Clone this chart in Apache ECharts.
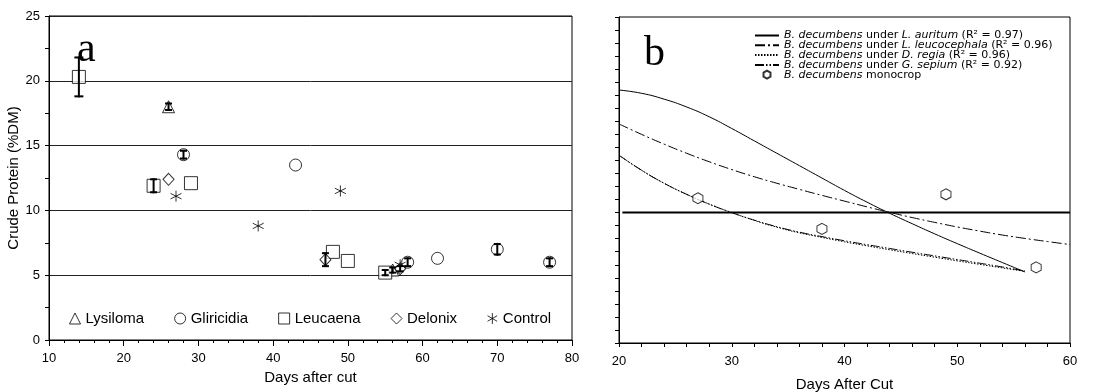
<!DOCTYPE html>
<html>
<head>
<meta charset="utf-8">
<script src="https://cdn.jsdelivr.net/npm/echarts@6/dist/echarts.min.js"></script>
<style>
  html, body { margin: 0; padding: 0; background: #fff; }
  #chart { width: 1097px; height: 392px; }
</style>
</head>
<body>
<div id="chart"></div>
<script>
// ---- Panel a: crude protein by tree species, [day, %DM, error] ----
const lysiloma   = [[26, 18.0, 0.25], [56, 5.4, 0.2]];
const gliricidia = [[28, 14.3, 0.3], [43, 13.5, 0], [58, 6.0, 0.3], [62, 6.3, 0], [70, 7.0, 0.4], [77, 6.0, 0.3]];
const leucaena   = [[14, 20.3, 1.5], [24, 11.9, 0.5], [29, 12.1, 0], [48, 6.8, 0], [50, 6.1, 0], [55, 5.2, 0.2]];
const delonix    = [[26, 12.4, 0], [47, 6.2, 0.5], [57, 5.5, 0.2]];
const control    = [[27, 11.1, 0], [38, 8.8, 0], [49, 11.5, 0], [57, 5.8, 0]];
const groupNames = ['Lysiloma', 'Gliricidia', 'Leucaena', 'Delonix', 'Control'];

// ---- Panel b: fitted curves for B. decumbens under each tree ----
const curveDays       = [20, 22, 24, 26, 28, 30, 32, 34, 36, 38, 40, 42, 44, 46, 48, 50, 52, 54, 56];
const curveDaysLong   = [20, 22, 24, 26, 28, 30, 32, 34, 36, 38, 40, 42, 44, 46, 48, 50, 52, 54, 56, 58, 60];
const underAuritum    = [19.4, 19.15, 18.7, 18.1, 17.35, 16.45, 15.5, 14.55, 13.6, 12.65, 11.7, 10.8, 9.95, 9.15, 8.37, 7.62, 6.89, 6.17, 5.45];
const underLeuco      = [16.8, 16.0, 15.25, 14.55, 13.9, 13.3, 12.75, 12.25, 11.78, 11.32, 10.88, 10.44, 10.02, 9.62, 9.25, 8.9, 8.58, 8.28, 8.02, 7.78, 7.55];
const underRegia      = [14.4, 13.25, 12.25, 11.4, 10.65, 10.0, 9.4, 8.88, 8.45, 8.1, 7.76, 7.45, 7.15, 6.86, 6.58, 6.3, 6.03, 5.76, 5.49];
const underSepium     = [14.4, 13.25, 12.25, 11.4, 10.65, 10.0, 9.42, 8.92, 8.5, 8.16, 7.84, 7.54, 7.25, 6.96, 6.68, 6.4, 6.12, 5.83, 5.52];
const monocropDays    = [27, 38, 49, 57];
const monocropValues  = [11.1, 8.75, 11.4, 5.8];
const monocropMean    = 10;
const hostNames       = ['L. auritum', 'L. leucocephala', 'D. regia', 'G. sepium'];
const r2Values        = ['0.97', '0.96', '0.96', '0.92'];

const FONT = '"Liberation Sans", Arial, sans-serif';
const LEGEND_FONT = '"DejaVu Sans", sans-serif';
const asterisk = 'path://M0,-1L0,1M-0.87,-0.5L0.87,0.5M-0.87,0.5L0.87,-0.5';
const hexagon = 'path://M0,-1L0.87,-0.5L0.87,0.5L0,1L-0.87,0.5L-0.87,-0.5Z';

const chart = echarts.init(document.getElementById('chart'), null, { renderer: 'canvas' });

const hollow = { color: '#fff', borderColor: '#000', borderWidth: 1 };
function scatterA(name, data, symbol, size) {
  return {
    name, type: 'scatter', xAxisIndex: 0, yAxisIndex: 0,
    data: data.map(d => [d[0], d[1]]),
    symbol, symbolSize: size, itemStyle: hollow, z: 3
  };
}

const errorData = [lysiloma, gliricidia, leucaena, delonix, control]
  .flat().filter(d => d[2] > 0);

const curveLabels = hostNames.map(h => 'B. decumbens under ' + h);
const monocropLabel = 'B. decumbens monocrop';

function pair(xs, ys) { return ys.map((v, i) => [xs[i], v]); }

function curveSeries(k, xs, ys, type) {
  return {
    name: curveLabels[k], type: 'line', xAxisIndex: 1, yAxisIndex: 1,
    smooth: true, symbol: 'none', data: pair(xs, ys),
    lineStyle: { color: '#000', width: 1, type }, itemStyle: { color: '#000' }
  };
}

const LEGEND_SIZE = 11;

const option = {
  animation: false,
  backgroundColor: '#fff',
  textStyle: { fontFamily: FONT, color: '#000' },
  grid: [
    { left: 49, right: 525, top: 16, bottom: 52, outerBoundsMode: 'none', show: true, borderColor: '#000', borderWidth: 1, backgroundColor: 'transparent' },
    { left: 619, right: 27, top: 17, bottom: 49, outerBoundsMode: 'none', show: true, borderColor: '#000', borderWidth: 1, backgroundColor: 'transparent' }
  ],
  xAxis: [
    {
      gridIndex: 0, type: 'value', min: 10, max: 80, interval: 10,
      name: 'Days after cut', nameLocation: 'middle', nameGap: 27,
      nameTextStyle: { fontSize: 15, fontFamily: FONT, color: '#000' },
      axisLine: { lineStyle: { color: '#000', width: 1 } },
      axisTick: { length: 6, lineStyle: { color: '#000' } },
      minorTick: { show: true, splitNumber: 5, length: 3, lineStyle: { color: '#000' } },
      axisLabel: { fontSize: 13, color: '#000', margin: 12, fontFamily: FONT },
      splitLine: { show: false }
    },
    {
      gridIndex: 1, type: 'value', min: 20, max: 60, interval: 10,
      name: 'Days After Cut', nameLocation: 'middle', nameGap: 34,
      nameTextStyle: { fontSize: 15, fontFamily: FONT, color: '#000' },
      axisLine: { lineStyle: { color: '#000', width: 1 } },
      axisTick: { length: 4, lineStyle: { color: '#000' } },
      minorTick: { show: true, splitNumber: 5, length: 4, lineStyle: { color: '#000' } },
      axisLabel: { fontSize: 13, color: '#000', margin: 12, fontFamily: FONT },
      splitLine: { show: false }
    }
  ],
  yAxis: [
    {
      gridIndex: 0, type: 'value', min: 0, max: 25, interval: 5,
      name: 'Crude Protein (%DM)', nameLocation: 'middle', nameGap: 22,
      nameTextStyle: { fontSize: 15, fontFamily: FONT, color: '#000' },
      axisLine: { lineStyle: { color: '#000', width: 1 } },
      axisTick: { length: 4, lineStyle: { color: '#000' } },
      minorTick: { show: true, splitNumber: 2, length: 4, lineStyle: { color: '#000' } },
      axisLabel: { fontSize: 13, color: '#000', margin: 9, fontFamily: FONT },
      splitLine: { show: true, lineStyle: { color: '#222', width: 1 } }
    },
    {
      gridIndex: 1, type: 'value', min: 0, max: 25, interval: 1,
      axisLine: { lineStyle: { color: '#000', width: 1 } },
      axisTick: { length: 4, lineStyle: { color: '#000' } },
      axisLabel: { show: false },
      splitLine: { show: false }
    }
  ],
  legend: [
    {
      data: groupNames,
      left: 64, top: 306, orient: 'horizontal',
      itemGap: 30, itemWidth: 11, itemHeight: 11,
      textStyle: { fontSize: 15, color: '#000', fontFamily: FONT },
      itemStyle: { color: '#fff', borderColor: '#000', borderWidth: 1 }
    },
    {
      data: curveLabels.map(n => ({ name: n, itemStyle: { opacity: 0 } })).concat([monocropLabel]),
      left: 749, top: 25, orient: 'vertical',
      itemGap: -1.2, itemWidth: 24, itemHeight: 8,
      textStyle: {
        fontSize: LEGEND_SIZE, color: '#000', fontFamily: LEGEND_FONT, lineHeight: 9.6,
        rich: {
          i: { fontStyle: 'italic', fontSize: LEGEND_SIZE, fontFamily: LEGEND_FONT, lineHeight: 9.6 },
          n: { fontSize: LEGEND_SIZE, fontFamily: LEGEND_FONT, lineHeight: 9.6 }
        }
      },
      formatter: function (name) {
        const k = curveLabels.indexOf(name);
        if (k >= 0) {
          return '{i|B. decumbens}{n| under }{i|' + hostNames[k] + '}{n| (R² = ' + r2Values[k] + ')}';
        }
        return '{i|B. decumbens}{n| monocrop}';
      }
    }
  ],
  graphic: [
    { type: 'text', left: 77, top: 29, z: 10, style: { text: 'a', font: '42px "Liberation Serif", serif', fill: '#000' } },
    { type: 'text', left: 644, top: 33, z: 10, style: { text: 'b', font: '42px "Liberation Serif", serif', fill: '#000' } }
  ],
  series: [
    scatterA('Lysiloma', lysiloma, 'triangle', 12),
    scatterA('Gliricidia', gliricidia, 'circle', 12),
    scatterA('Leucaena', leucaena, 'rect', 13),
    scatterA('Delonix', delonix, 'diamond', [11, 12]),
    Object.assign(scatterA('Control', control, asterisk, 11), { itemStyle: { color: 'none', borderColor: '#000', borderWidth: 1 } }),
    {
      name: 'error', type: 'custom', xAxisIndex: 0, yAxisIndex: 0, z: 5,
      data: errorData,
      encode: { x: 0, y: 1 },
      renderItem: function (params, api) {
        const x = api.value(0), y = api.value(1), e = api.value(2);
        const top = api.coord([x, y + e]);
        const bot = api.coord([x, y - e]);
        const hw = e > 1 ? 4.5 : 3.5;
        const st = { stroke: '#000', lineWidth: 2 };
        return {
          type: 'group', children: [
            { type: 'line', shape: { x1: top[0], y1: top[1] - 1, x2: bot[0], y2: bot[1] + 1 }, style: st },
            { type: 'line', shape: { x1: top[0] - hw, y1: top[1], x2: top[0] + hw, y2: top[1] }, style: st },
            { type: 'line', shape: { x1: bot[0] - hw, y1: bot[1], x2: bot[0] + hw, y2: bot[1] }, style: st }
          ]
        };
      }
    },
    curveSeries(0, curveDays, underAuritum, 'solid'),
    curveSeries(1, curveDaysLong, underLeuco, [10, 3, 2, 3]),
    curveSeries(2, curveDays, underRegia, [1.5, 1.5]),
    curveSeries(3, curveDays, underSepium, [9, 2, 1.5, 2, 1.5, 2]),
    {
      name: monocropLabel, type: 'scatter', xAxisIndex: 1, yAxisIndex: 1,
      data: pair(monocropDays, monocropValues),
      symbol: hexagon, symbolSize: [10, 11],
      itemStyle: { color: '#fff', borderColor: '#000', borderWidth: 1 }, z: 4
    },
    {
      name: 'monocrop mean', type: 'line', xAxisIndex: 1, yAxisIndex: 1, symbol: 'none',
      data: [[20.3, monocropMean], [60, monocropMean]],
      lineStyle: { color: '#000', width: 2 }, z: 3
    }
  ]
};

chart.setOption(option);
</script>
</body>
</html>
